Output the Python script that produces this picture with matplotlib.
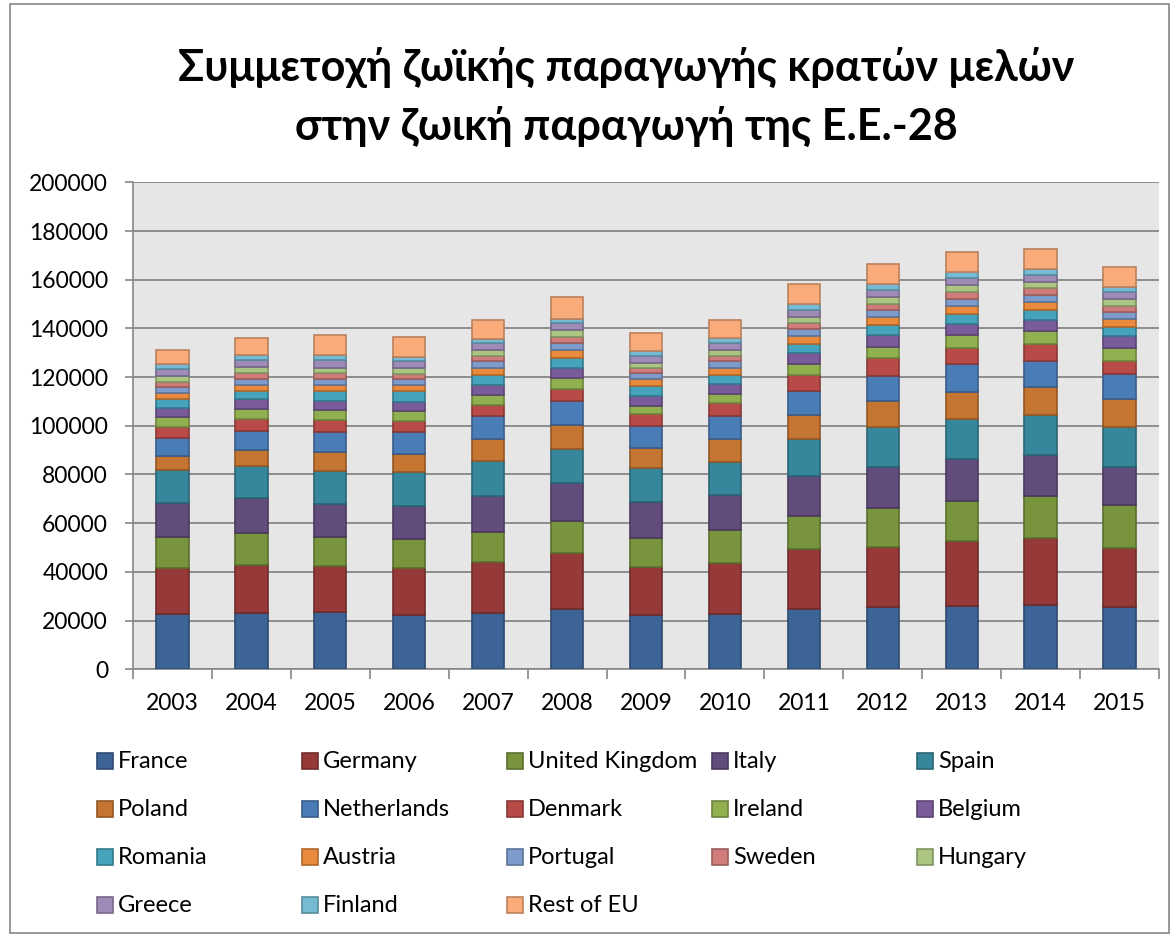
import matplotlib
matplotlib.use("Agg")
from matplotlib import pyplot as plt
from matplotlib.patches import Rectangle
import matplotlib.colors as mcolors
import numpy as np

# fonts: Lato is the nearest thing to Calibri we have, Noto Sans as fallback for Greek
plt.rcParams["font.family"] = ["Lato", "Noto Sans", "DejaVu Sans"]

years = ["2003", "2004", "2005", "2006", "2007", "2008", "2009",
         "2010", "2011", "2012", "2013", "2014", "2015"]

# values (stack order bottom -> top)
france = [22850, 23120, 23530, 22170, 23290, 24930, 22190, 22740, 24930, 25620, 26170, 26580, 25480]
germany = [18750, 19860, 18900, 19450, 20820, 23020, 20010, 21100, 24390, 24800, 26710, 27260, 24250]
united_kingdom = [12530, 12920, 11700, 11690, 12200, 13020, 11920, 13290, 13840, 15890, 16440, 17400, 17670]
italy = [14270, 14280, 13730, 13870, 14660, 15480, 14650, 14250, 16030, 16850, 16990, 16580, 15760]
spain = [13470, 13320, 13740, 13740, 14660, 13970, 13840, 13830, 15200, 16300, 16440, 16710, 16440]
poland = [5580, 6400, 7620, 7480, 8900, 9730, 8220, 9320, 10000, 10550, 11100, 11370, 11370]
netherlands = [7610, 8020, 8430, 8980, 9320, 9860, 8910, 9320, 10010, 10550, 11370, 10690, 10140]
denmark = [4490, 4760, 4620, 4760, 4790, 5210, 5070, 5480, 6300, 7120, 6710, 6990, 5620]
ireland = [4220, 4350, 4220, 3940, 4110, 4380, 3420, 3830, 4660, 4660, 5340, 5200, 5340]
belgium = [3530, 3950, 3670, 3810, 4110, 4250, 3840, 4110, 4520, 4800, 4660, 4520, 4660]
romania = [3680, 3400, 4080, 4210, 3970, 4110, 4110, 3430, 3700, 4110, 3970, 4110, 3830]
austria = [2580, 2580, 2580, 2590, 3020, 3150, 2870, 3150, 3150, 3290, 3430, 3430, 3290]
portugal = [2310, 2450, 2590, 2450, 2880, 3010, 2610, 2740, 3010, 2870, 2880, 2870, 2880]
sweden = [2180, 2450, 2310, 2310, 2050, 2470, 2050, 2190, 2600, 2740, 2870, 2740, 2460]
hungary = [2310, 2170, 2180, 2170, 2330, 2600, 2060, 2330, 2470, 2610, 2740, 2740, 3020]
greece = [2990, 2860, 2990, 3000, 2740, 2880, 2870, 2880, 2880, 2870, 2740, 2740, 2600]
finland = [2040, 2040, 2040, 1490, 1780, 1920, 1920, 2050, 2330, 2470, 2610, 2470, 2190]
rest_of_eu = [5710, 7000, 8230, 8490, 7950, 8900, 7540, 7540, 8080, 8220, 8220, 8080, 8090]

series = [
    ("France", france, "#3C6496"),
    ("Germany", germany, "#953A38"),
    ("United Kingdom", united_kingdom, "#78953E"),
    ("Italy", italy, "#624C7C"),
    ("Spain", spain, "#37879C"),
    ("Poland", poland, "#C47532"),
    ("Netherlands", netherlands, "#4A7CB8"),
    ("Denmark", denmark, "#B84A48"),
    ("Ireland", ireland, "#90B050"),
    ("Belgium", belgium, "#7B5C9A"),
    ("Romania", romania, "#45A3BC"),
    ("Austria", austria, "#E98A3C"),
    ("Portugal", portugal, "#7D9BCB"),
    ("Sweden", sweden, "#D07C7A"),
    ("Hungary", hungary, "#ABC583"),
    ("Greece", greece, "#9E8BB8"),
    ("Finland", finland, "#76BBD3"),
    ("Rest of EU", rest_of_eu, "#F9AC7A"),
]

title = "Συμμετοχή ζωϊκής παραγωγής κρατών μελών\nστην ζωική παραγωγή της Ε.Ε.-28"


def darker(c, f=0.75):
    r, g, b = mcolors.to_rgb(c)
    return (r * f, g * f, b * f)


W, H = 1173, 936
fig = plt.figure(figsize=(W / 100, H / 100), dpi=100)

# outer chart border
fig.patches.append(Rectangle((10 / W, 3 / H), 1159 / W, 929 / H, transform=fig.transFigure,
                             fill=False, edgecolor="#868686", linewidth=1.2))

ax = fig.add_axes([133 / W, (H - 669.3) / H, (1159 - 133) / W, (669.3 - 182.3) / H])
ax.set_facecolor("#E6E6E6")

x = np.arange(len(years))
bottom = np.zeros(len(years))
for name, vals, col in series:
    vals = np.array(vals)
    ax.bar(x, vals, 0.41, bottom=bottom, color=col, edgecolor=darker(col),
           linewidth=1.2, label=name, zorder=3)
    bottom += vals

ax.set_xlim(-0.5, len(years) - 0.5)
ax.set_ylim(0, 200000)
ax.set_yticks(np.arange(0, 200001, 20000))
ax.set_yticklabels([str(v) for v in range(0, 200001, 20000)])
ax.yaxis.grid(True, color="#868686", linewidth=1.3, zorder=0)
ax.set_axisbelow(True)

ax.set_xticks(x)
ax.set_xticklabels(years)
ax.set_xticks(np.arange(-0.5, len(years)), minor=True)
ax.tick_params(axis="x", which="major", length=0, pad=17, labelsize=16.5)
ax.tick_params(axis="x", which="minor", length=7, width=1.2, color="#868686")
ax.tick_params(axis="y", length=6, width=1.2, color="#868686", pad=12, labelsize=16.5)

for side in ["top", "right"]:
    ax.spines[side].set_visible(False)
for side in ["left", "bottom"]:
    ax.spines[side].set_color("#868686")
    ax.spines[side].set_linewidth(1.2)

fig.text(626 / W, 1 - 97 / H, title, ha="center", va="center",
         fontsize=31, fontweight="bold", linespacing=1.5)

# legend, laid out like Excel: 5 equal columns, row-major order
col_x = [97, 302, 507, 712, 917]
row_y = [761, 809, 857, 905]
sq = 16
for i, (name, vals, col) in enumerate(series):
    r, c = divmod(i, 5)
    px, py = col_x[c], row_y[r]
    fig.patches.append(Rectangle((px / W, 1 - (py + sq / 2) / H), sq / W, sq / H,
                                 transform=fig.transFigure, facecolor=col,
                                 edgecolor=darker(col), linewidth=1.2))
    fig.text((px + sq + 5) / W, 1 - py / H, name, ha="left", va="center", fontsize=17)

plt.savefig("out.png", dpi=100)
